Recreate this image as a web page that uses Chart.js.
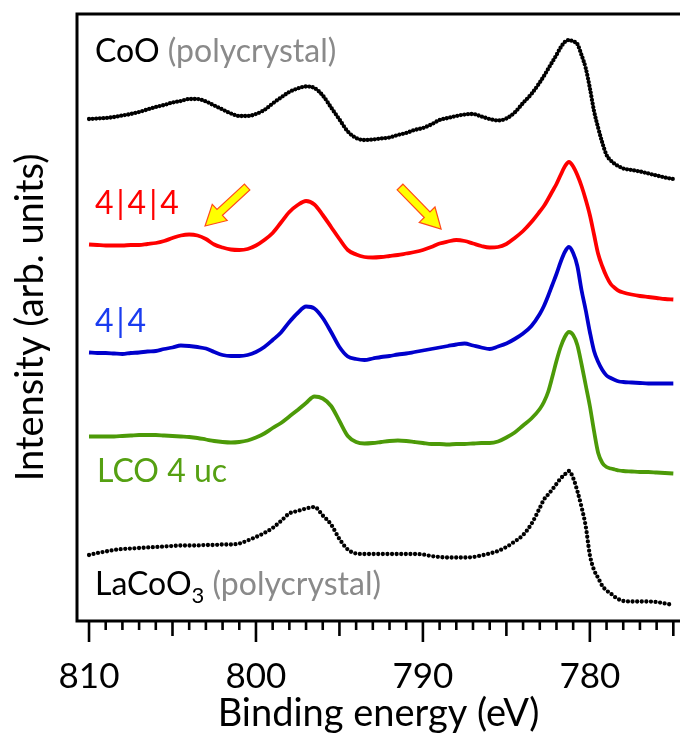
<!DOCTYPE html>
<html>
<head>
<meta charset="utf-8">
<script src="https://cdn.jsdelivr.net/npm/chart.js@4.4.1/dist/chart.umd.min.js"></script>
<style>
  html, body { margin: 0; padding: 0; background: #fff; }
  canvas { display: block; }
</style>
</head>
<body>
<canvas id="xpsChart" width="680" height="733"></canvas>
<script>
// Binding energies (eV), finer steps around the main Co 2p3/2 peak
const energies = [
    810, 809.5, 809, 808.5, 808, 807.5, 807, 806.5, 806, 805.5, 805, 804.5, 804, 803.5,
    803, 802.5, 802, 801.5, 801, 800.5, 800, 799.5, 799, 798.5, 798, 797.5, 797, 796.5,
    796, 795.5, 795, 794.5, 794, 793.5, 793, 792.5, 792, 791.5, 791, 790.5, 790, 789.5,
    789, 788.5, 788, 787.5, 787, 786.5, 786, 785.5, 785, 784.5, 784, 783.5,
    783, 782.75, 782.5, 782.25, 782, 781.75, 781.5, 781.25, 781, 780.75, 780.5, 780.25,
    780, 779.75, 779.5, 779.25, 779, 778.75, 778.5, 778.25, 778,
    777.5, 777, 776.5, 776, 775.5, 775
];

// Intensities (arb. units, stacked with offsets as in the figure)
const cooPoly = [
    502, 502.5, 503, 504, 505.5, 507, 509, 511.5, 514, 516, 518.5, 520, 522, 522,
    519.5, 515.5, 511.5, 507.5, 505, 505, 507, 511, 517.5, 523.5, 529, 532.5, 534.5, 533,
    525.5, 513.5, 501.5, 489.5, 483, 481, 481.5, 482.5, 483.5, 486, 488, 491, 493, 496.5,
    501, 503, 505, 506.5, 507, 504.5, 502, 500.5, 502.5, 508.5, 518, 527,
    538.5, 545, 552, 559, 566, 573.5, 579, 581, 579.5, 577, 566, 553,
    533, 510, 493, 478, 466, 460.5, 457, 454.5, 452.5,
    451, 449.5, 447.5, 445.5, 443.5, 442
];
const sample444 = [
    376.5, 376, 375.5, 375.5, 375.5, 376, 376, 377, 378, 380, 383, 385.5, 386.5, 385.5,
    382, 376.5, 373.5, 371.5, 371, 372, 375.5, 381, 388, 398.5, 409, 416, 420, 416.5,
    406, 394, 382, 371, 366.5, 364, 363.5, 364, 365, 366, 367.5, 369, 371, 374,
    377.5, 379.5, 381, 380, 377.5, 375, 373.5, 374, 377, 383, 390, 399,
    409.5, 415, 422, 429.5, 437, 446, 454.5, 459, 454.5, 446, 435, 421.5,
    406, 386.5, 367, 354.5, 344.5, 337, 333, 330, 328.5,
    326.5, 325, 324, 323, 322, 321.5
];
const sample44 = [
    268.5, 268, 268, 267.5, 267, 268, 268.5, 269.5, 270, 272, 273.5, 275.5, 275, 274,
    272.5, 269, 266, 265, 265, 266, 269, 274, 281, 288.5, 299, 308, 314.5, 312.5,
    303, 289, 274, 264.5, 262, 261, 262.5, 264, 265, 266.5, 267.5, 269, 270.5, 272,
    273.5, 275, 276.5, 277.5, 275.5, 273.5, 272, 274.5, 277.5, 282, 287.5, 295,
    307, 315, 325, 336, 347, 359, 369, 374, 368, 355, 331, 311,
    289, 270, 259, 251, 245.5, 243, 241, 239.5, 239,
    238.5, 238, 237.5, 237.5, 237.5, 237.5
];
const lco4uc = [
    184.5, 184.5, 184.5, 184.5, 185, 185.5, 186, 186, 186, 185.5, 185, 184.5, 184, 183,
    181.5, 180, 179, 178.5, 179, 180.5, 183.5, 187.5, 193, 198, 204.5, 211, 218, 224.5,
    222.5, 215, 200, 185, 179, 177.5, 178, 179, 180, 180.5, 180, 179, 178, 177,
    177, 176.5, 177, 177, 177.5, 178, 178, 179.5, 183.5, 188.5, 195.5, 202.5,
    212, 219, 229, 244, 260, 274, 284, 289, 286, 276, 257, 236,
    215, 190, 168, 158, 154, 152.5, 151.5, 150.5, 150,
    149.5, 149, 149, 148.5, 148, 147.5
];
const lacooPoly = [
    66, 68, 69.5, 71, 72, 72.5, 73, 73.5, 74, 74.5, 75, 75.5, 75.5, 75.5,
    76, 76, 76.5, 76.5, 77.5, 80.5, 84, 88, 93, 100, 107.5, 110, 112.5, 114,
    105.5, 96.5, 82, 71.5, 67.5, 67, 67, 67, 67, 67, 67, 67, 66.5, 65,
    64, 63.5, 63.5, 63.5, 64, 65.5, 67.5, 70, 74, 79.5, 86, 97,
    113, 121.5, 126.5, 131.5, 137, 142.5, 146.5, 150, 143, 130, 114, 95,
    66, 51, 43, 35, 30.5, 27.5, 24, 21.5, 20,
    19.5, 19.5, 19.5, 19, 17.5, 16
];

const xTickLabels = [810, 800, 790, 780];

// every 1 eV a tick mark, longer at 5 and 10
const minorTicks = [];
for (let e = 775; e <= 810; e++) minorTicks.push(e);

const FONT = "Lato, 'Open Sans', sans-serif";

// text labels placed in data space (eV, intensity); gap = extra space after a piece
const seriesLabels = [
    { e: 809.64, v: 559, parts: [{ text: "CoO", color: "#000" }, { text: " (polycrystal)", color: "#8a8a8a" }] },
    { e: 809.64, v: 407, parts: [
        { text: "4", color: "#ff0000", gap: 3 }, { text: "|", color: "#ff0000", gap: 3 },
        { text: "4", color: "#ff0000", gap: 3 }, { text: "|", color: "#ff0000", gap: 3 },
        { text: "4", color: "#ff0000" }] },
    { e: 809.64, v: 289, parts: [
        { text: "4", color: "#1a3cf0", gap: 3 }, { text: "|", color: "#1a3cf0", gap: 3 },
        { text: "4", color: "#1a3cf0" }] },
    { e: 809.52, v: 139, parts: [{ text: "LCO 4 uc", color: "#55a012" }] },
    { e: 809.64, v: 26, parts: [{ text: "LaCoO", color: "#000" }, { text: "3", color: "#000", sub: true }, { text: " (polycrystal)", color: "#8a8a8a" }] }
];

const arrows = [
    { from: [800.53, 434], to: [803.05, 395] },
    { from: [791.37, 434], to: [788.91, 392] }
];

function toPoints(values) {
    return energies.map((e, i) => ({ x: e, y: values[i] }));
}

// Frame, tick marks, labels and arrows
const decorPlugin = {
    id: "decor",
    afterDraw(chart) {
        const ctx = chart.ctx;
        const area = chart.chartArea;
        const xs = chart.scales.x;
        const ys = chart.scales.y;
        ctx.save();

        // frame (left, top, bottom)
        ctx.strokeStyle = "#000";
        ctx.lineWidth = 3;
        ctx.beginPath();
        ctx.moveTo(area.right + 2, area.top);
        ctx.lineTo(area.left, area.top);
        ctx.lineTo(area.left, area.bottom);
        ctx.lineTo(area.right + 2, area.bottom);
        ctx.stroke();

        // tick marks below the axis
        ctx.lineWidth = 2.6;
        ctx.lineCap = "butt";
        minorTicks.forEach(e => {
            const px = xs.getPixelForValue(e);
            const len = e % 10 === 0 ? 21 : (e % 5 === 0 ? 15 : 9);
            ctx.beginPath();
            ctx.moveTo(px, area.bottom);
            ctx.lineTo(px, area.bottom + len);
            ctx.stroke();
        });

        // series labels
        ctx.textBaseline = "alphabetic";
        ctx.textAlign = "left";
        seriesLabels.forEach(lbl => {
            let px = xs.getPixelForValue(lbl.e);
            const py = ys.getPixelForValue(lbl.v);
            lbl.parts.forEach(p => {
                ctx.font = (p.sub ? "22px " : "32px ") + FONT;
                ctx.fillStyle = p.color;
                ctx.fillText(p.text, px, py + (p.sub ? 8 : 0));
                px += ctx.measureText(p.text).width + (p.gap || 0);
            });
        });

        // yellow arrows
        arrows.forEach(a => {
            const tx = xs.getPixelForValue(a.from[0]), ty = ys.getPixelForValue(a.from[1]);
            const hx = xs.getPixelForValue(a.to[0]), hy = ys.getPixelForValue(a.to[1]);
            const len = Math.hypot(hx - tx, hy - ty);
            const ux = (hx - tx) / len, uy = (hy - ty) / len;
            const nx = -uy, ny = ux;
            const headLen = 20, headHalf = 11, shaftHalf = 4;
            const bx = hx - ux * headLen, by = hy - uy * headLen;
            ctx.beginPath();
            ctx.moveTo(tx + nx * shaftHalf, ty + ny * shaftHalf);
            ctx.lineTo(bx + nx * shaftHalf, by + ny * shaftHalf);
            ctx.lineTo(bx + nx * headHalf, by + ny * headHalf);
            ctx.lineTo(hx, hy);
            ctx.lineTo(bx - nx * headHalf, by - ny * headHalf);
            ctx.lineTo(bx - nx * shaftHalf, by - ny * shaftHalf);
            ctx.lineTo(tx - nx * shaftHalf, ty - ny * shaftHalf);
            ctx.closePath();
            ctx.fillStyle = "#ffff00";
            ctx.fill();
            ctx.strokeStyle = "#ff4a1a";
            ctx.lineWidth = 1.2;
            ctx.lineJoin = "miter";
            ctx.stroke();
        });

        ctx.restore();
    }
};

function dottedSet(label, values, gap) {
    return {
        label: label,
        data: toPoints(values),
        borderColor: "#000",
        borderWidth: 4.3,
        borderDash: [0, gap],
        borderCapStyle: "round",
        pointRadius: 0,
        cubicInterpolationMode: "monotone",
        fill: false
    };
}

function solidSet(label, values, color) {
    return {
        label: label,
        data: toPoints(values),
        borderColor: color,
        borderWidth: 3.8,
        pointRadius: 0,
        cubicInterpolationMode: "monotone",
        fill: false
    };
}

new Chart(document.getElementById("xpsChart"), {
    type: "line",
    data: {
        datasets: [
            dottedSet("CoO (polycrystal)", cooPoly, 3.6),
            solidSet("4|4|4", sample444, "#ff0000"),
            solidSet("4|4", sample44, "#0000cc"),
            solidSet("LCO 4 uc", lco4uc, "#4c9a08"),
            dottedSet("LaCoO3 (polycrystal)", lacooPoly, 4.6)
        ]
    },
    options: {
        responsive: false,
        animation: false,
        devicePixelRatio: 1,
        layout: { padding: { top: 14, right: 0, left: 0, bottom: 0 } },
        plugins: {
            legend: { display: false },
            tooltip: { enabled: false }
        },
        scales: {
            x: {
                type: "linear",
                reverse: true,
                min: 774.6,
                max: 810.72,
                afterBuildTicks: scale => {
                    scale.ticks = xTickLabels.map(v => ({ value: v }));
                },
                afterFit: scale => { scale.height = 112; },
                grid: { display: false },
                border: { display: false },
                ticks: {
                    autoSkip: false,
                    maxRotation: 0,
                    padding: 27,
                    color: "#000",
                    font: { family: FONT, size: 35 },
                    callback: v => String(v)
                },
                title: {
                    display: true,
                    text: "Binding energy (eV)",
                    color: "#000",
                    font: { family: FONT, size: 38, lineHeight: 1 },
                    padding: { top: 0, bottom: 0 }
                }
            },
            y: {
                min: 0,
                max: 607,
                afterFit: scale => { scale.width = 77; },
                grid: { display: false },
                border: { display: false },
                ticks: { display: false },
                title: {
                    display: true,
                    text: "Intensity (arb. units)",
                    color: "#000",
                    font: { family: FONT, size: 38, lineHeight: 1 },
                    padding: { top: 12, bottom: 0 }
                }
            }
        }
    },
    plugins: [decorPlugin]
});
</script>
</body>
</html>
